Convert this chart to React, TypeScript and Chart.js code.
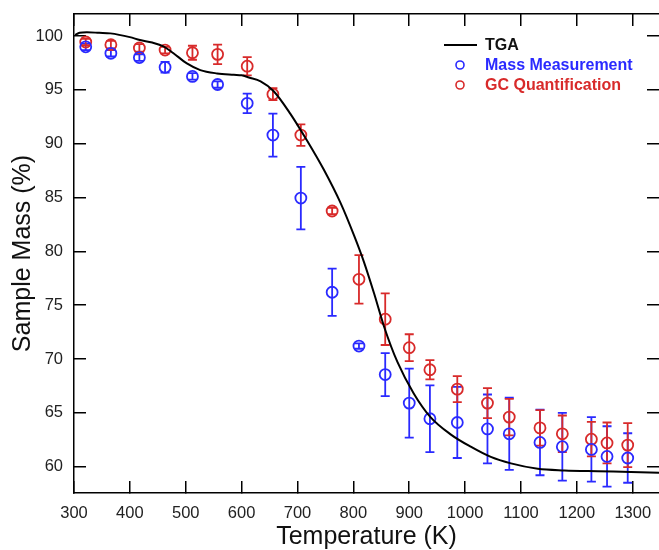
import React, { useEffect, useRef } from "react";
import { Chart, registerables } from "chart.js";

Chart.register(...registerables);

// TGA curve (Temperature K, Sample mass %)
const tgaTemp = [302, 310, 323, 345, 365, 400, 418, 440, 460, 478, 502, 526, 556, 586, 600, 613, 634, 657, 687, 717, 747, 777, 801, 819, 837, 855, 879, 908, 938, 974, 1010, 1046, 1082, 1130, 1178, 1237, 1297, 1347];
const tgaMass = [100.1, 100.3, 100.35, 100.3, 100.25, 99.9, 99.63, 99.4, 99.05, 98.4, 97.46, 96.84, 96.53, 96.4, 96.35, 96.15, 95.8, 94.9, 92.8, 90.3, 87.6, 84.5, 81.5, 79.0, 76.1, 73.0, 69.7, 66.8, 64.6, 63.0, 61.85, 60.9, 60.3, 59.8, 59.65, 59.57, 59.5, 59.43];

// Discrete samples
const sampleTemp = [321, 366, 417, 463, 512, 557, 610, 656, 706, 762, 810, 857, 900, 937, 986, 1040, 1079, 1134, 1174, 1226, 1254, 1291];
const massMeasurement = [99.0, 98.4, 98.0, 97.1, 96.25, 95.5, 93.75, 90.8, 84.95, 76.2, 71.2, 68.55, 65.9, 64.45, 64.1, 63.5, 63.05, 62.25, 61.85, 61.6, 60.95, 60.8];
const massMeasurementErr = [0.3, 0.3, 0.3, 0.5, 0.3, 0.3, 0.9, 2.0, 2.9, 2.2, 0.25, 2.0, 3.2, 3.1, 3.3, 3.2, 3.35, 3.05, 3.15, 3.0, 2.8, 2.3];
const gcQuantification = [99.45, 99.2, 98.9, 98.7, 98.45, 98.3, 97.2, 94.6, 90.8, 83.75, 77.4, 73.7, 71.05, 69.0, 67.2, 65.9, 64.6, 63.6, 63.05, 62.55, 62.2, 62.0];
const gcQuantificationErr = [0.3, 0.35, 0.35, 0.3, 0.65, 0.9, 0.85, 0.55, 1.0, 0.3, 2.25, 2.4, 1.25, 0.9, 1.2, 1.4, 1.7, 1.65, 1.7, 1.6, 1.9, 2.05];

const xTicks = [300, 400, 500, 600, 700, 800, 900, 1000, 1100, 1200, 1300];
const yTicks = [60, 65, 70, 75, 80, 85, 90, 95, 100];

const BLUE = "#2a2aff";
const RED = "#d82a2a";
const FONT = "'Liberation Sans', Arial, Helvetica, sans-serif";

const errorBarPlugin = {
  id: "errorBars",
  beforeDatasetsDraw(chart: any) {
    const ctx = chart.ctx;
    const xs = chart.scales.x;
    const ys = chart.scales.y;
    chart.data.datasets.forEach((ds: any, i: number) => {
      if (!ds.errors || !chart.isDatasetVisible(i)) return;
      ctx.save();
      ctx.strokeStyle = ds.borderColor;
      ctx.lineWidth = 1.8;
      ds.data.forEach((p: any, j: number) => {
        const e = ds.errors[j];
        const px = xs.getPixelForValue(p.x);
        const top = ys.getPixelForValue(p.y + e);
        const bot = ys.getPixelForValue(p.y - e);
        ctx.beginPath();
        ctx.moveTo(px, top);
        ctx.lineTo(px, bot);
        ctx.moveTo(px - 4.5, top);
        ctx.lineTo(px + 4.5, top);
        ctx.moveTo(px - 4.5, bot);
        ctx.lineTo(px + 4.5, bot);
        ctx.stroke();
      });
      ctx.restore();
    });
  },
};

const legendPlugin = {
  id: "customLegend",
  afterDraw(chart: any) {
    const ctx = chart.ctx;
    const x0 = 444;
    const tx = 485;
    const rows = [45, 65, 85];
    ctx.save();
    ctx.font = `bold 16px ${FONT}`;
    ctx.textBaseline = "middle";
    ctx.textAlign = "left";
    chart.data.datasets.forEach((ds: any, i: number) => {
      const y = rows[i];
      ctx.strokeStyle = ds.borderColor;
      if (ds.showLine) {
        ctx.lineWidth = 2;
        ctx.beginPath();
        ctx.moveTo(x0, y);
        ctx.lineTo(x0 + 33, y);
        ctx.stroke();
      } else {
        ctx.lineWidth = 1.6;
        ctx.beginPath();
        ctx.arc(x0 + 16, y, 4, 0, Math.PI * 2);
        ctx.stroke();
      }
      ctx.fillStyle = ds.legendColor;
      ctx.fillText(ds.label, tx, y + 1);
    });
    ctx.restore();
  },
};

const keepTicks = (vals: number[]) => (axis: any) => {
  axis.ticks = vals.map((v) => ({ value: v }));
};

const fixSize = (w: number | null, h: number | null) => (s: any) => {
  if (w !== null) s.width = w;
  if (h !== null) s.height = h;
  s.paddingTop = 0;
  s.paddingBottom = 0;
  s.paddingLeft = 0;
  s.paddingRight = 0;
};

const gridOpts = {
  drawOnChartArea: false,
  drawTicks: true,
  tickLength: -12,
  color: "#000",
  lineWidth: 1.5,
};
const borderOpts = { display: true, color: "#000", width: 1.5 };
const plainLabel = (v: any) => String(v);

export default function App() {
  const ref = useRef<HTMLCanvasElement | null>(null);

  useEffect(() => {
    if (!ref.current) return;
    const chart = new Chart(ref.current, {
      type: "scatter",
      data: {
        datasets: [
          {
            label: "TGA",
            data: tgaTemp.map((t, i) => ({ x: t, y: tgaMass[i] })),
            borderColor: "#000",
            backgroundColor: "#000",
            borderWidth: 2,
            pointRadius: 0,
            showLine: true,
            cubicInterpolationMode: "monotone",
            legendColor: "#111",
          } as any,
          {
            label: "Mass Measurement",
            data: sampleTemp.map((t, i) => ({ x: t, y: massMeasurement[i] })),
            borderColor: BLUE,
            backgroundColor: "rgba(0,0,0,0)",
            borderWidth: 1.8,
            pointRadius: 5.5,
            showLine: false,
            errors: massMeasurementErr,
            legendColor: BLUE,
          } as any,
          {
            label: "GC Quantification",
            data: sampleTemp.map((t, i) => ({ x: t, y: gcQuantification[i] })),
            borderColor: RED,
            backgroundColor: "rgba(0,0,0,0)",
            borderWidth: 1.8,
            pointRadius: 5.5,
            showLine: false,
            errors: gcQuantificationErr,
            legendColor: RED,
          } as any,
        ],
      },
      options: {
        responsive: false,
        animation: false,
        layout: { padding: 0, autoPadding: false },
        plugins: {
          legend: { display: false },
          tooltip: { enabled: false },
        },
        scales: {
          x: {
            type: "linear",
            position: "bottom",
            min: 300,
            max: 1347,
            ticks: {
              includeBounds: false,
              padding: 23,
              color: "#222",
              font: { family: FONT, size: 16.5 },
              maxRotation: 0,
              autoSkip: false,
              callback: plainLabel,
            },
            afterBuildTicks: keepTicks(xTicks),
            grid: gridOpts,
            border: borderOpts,
            title: {
              display: true,
              text: "Temperature (K)",
              color: "#111",
              font: { family: FONT, size: 25, lineHeight: 1 },
              padding: { top: 0, bottom: 0 },
            },
            afterFit: fixSize(null, 57),
          },
          x2: {
            type: "linear",
            axis: "x",
            position: "top",
            min: 300,
            max: 1347,
            ticks: { display: false, includeBounds: false },
            afterBuildTicks: keepTicks(xTicks),
            grid: gridOpts,
            border: borderOpts,
            afterFit: fixSize(null, 14),
          },
          y: {
            type: "linear",
            position: "left",
            min: 57.55,
            max: 102.05,
            ticks: {
              includeBounds: false,
              padding: 23,
              color: "#222",
              font: { family: FONT, size: 16.5 },
              autoSkip: false,
              callback: plainLabel,
            },
            afterBuildTicks: keepTicks(yTicks),
            grid: gridOpts,
            border: borderOpts,
            title: {
              display: true,
              text: "Sample Mass (%)",
              color: "#111",
              font: { family: FONT, size: 25, lineHeight: 1 },
              padding: { top: 10.5, bottom: 0 },
            },
            afterFit: fixSize(74, null),
          },
          y2: {
            type: "linear",
            axis: "y",
            position: "right",
            min: 57.55,
            max: 102.05,
            ticks: { display: false, includeBounds: false },
            afterBuildTicks: keepTicks(yTicks),
            grid: gridOpts,
            border: { display: false },
            afterFit: fixSize(0, null),
          },
        },
      } as any,
      plugins: [errorBarPlugin, legendPlugin],
    });
    return () => chart.destroy();
  }, []);

  return (
    <div style={{ position: "absolute", left: 0, top: 0, width: 659, height: 550, background: "#fff" }}>
      <canvas ref={ref} width={659} height={550} style={{ display: "block" }} />
    </div>
  );
}
